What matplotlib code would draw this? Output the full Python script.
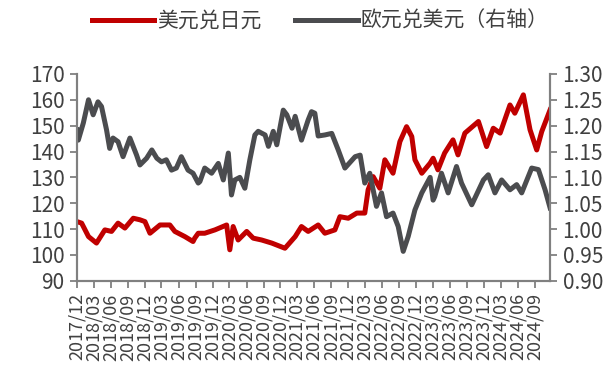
import numpy as np
import pandas as pd
import matplotlib
matplotlib.use("Agg")
import matplotlib.pyplot as plt
import matplotlib.dates as mdates

plt.rcParams['font.family'] = ['Noto Sans CJK SC', 'DejaVu Sans']

# 美元兑日元 (左轴)
jpy_dates = ["2017-12-01", "2017-12-26", "2018-02-01", "2018-03-16", "2018-04-30",
             "2018-06-05", "2018-07-10", "2018-08-16", "2018-09-30", "2018-11-05",
             "2018-12-02", "2018-12-29", "2019-02-21", "2019-04-15", "2019-05-12",
             "2019-07-05", "2019-08-18", "2019-08-27", "2019-09-15", "2019-10-20",
             "2019-12-14", "2020-02-15", "2020-03-03", "2020-03-21", "2020-04-17",
             "2020-06-02", "2020-07-07", "2020-08-21", "2020-10-15", "2020-12-25",
             "2021-02-18", "2021-03-24", "2021-04-29", "2021-06-22", "2021-07-28",
             "2021-09-20", "2021-10-17", "2021-12-01", "2022-01-16", "2022-02-28",
             "2022-03-18", "2022-04-14", "2022-05-20", "2022-06-16", "2022-07-30",
             "2022-09-05", "2022-10-11", "2022-11-08", "2022-11-25", "2023-01-01",
             "2023-02-15", "2023-03-03", "2023-03-29", "2023-05-04", "2023-06-18",
             "2023-07-15", "2023-08-21", "2023-11-02", "2023-12-16", "2024-01-21",
             "2024-02-27", "2024-04-20", "2024-05-16", "2024-07-01", "2024-08-06",
             "2024-09-11", "2024-10-08", "2024-11-22"]
jpy = [112.9, 112.3, 107.1, 104.6, 109.7,
       109.1, 112.3, 110.4, 114.2, 113.6,
       112.9, 108.4, 111.6, 111.6, 109.1,
       107.1, 105.2, 106.5, 108.4, 108.4,
       109.7, 111.6, 102.0, 111.0, 105.8,
       109.1, 106.5, 105.8, 104.6, 102.6,
       107.1, 111.0, 109.1, 111.6, 108.4,
       109.7, 114.8, 114.2, 116.2, 116.2,
       125.2, 130.3, 125.8, 136.8, 131.6,
       143.8, 149.6, 145.8, 136.8, 131.6,
       135.5, 137.4, 132.9, 139.4, 144.5,
       138.7, 147.1, 151.6, 141.9, 149.0,
       147.1, 158.0, 154.8, 161.9, 148.4,
       140.6, 147.7, 156.1]

# 欧元兑美元 (右轴)
eur_dates = ["2017-12-01", "2017-12-08", "2018-01-04", "2018-02-01", "2018-02-26",
             "2018-03-24", "2018-04-12", "2018-05-09", "2018-05-26", "2018-06-13",
             "2018-07-10", "2018-08-06", "2018-09-12", "2018-10-18", "2018-11-05",
             "2018-12-11", "2019-01-08", "2019-02-04", "2019-03-01", "2019-03-27",
             "2019-04-24", "2019-05-20", "2019-06-16", "2019-07-22", "2019-08-18",
             "2019-09-15", "2019-09-24", "2019-10-20", "2019-11-26", "2020-01-01",
             "2020-01-28", "2020-02-24", "2020-03-12", "2020-03-30", "2020-04-26",
             "2020-05-23", "2020-06-19", "2020-07-16", "2020-08-03", "2020-09-09",
             "2020-09-27", "2020-10-23", "2020-11-11", "2020-12-16", "2021-01-04",
             "2021-02-01", "2021-02-18", "2021-03-24", "2021-04-29", "2021-05-17",
             "2021-06-04", "2021-06-22", "2021-07-28", "2021-09-03", "2021-10-08",
             "2021-11-13", "2022-01-07", "2022-02-03", "2022-02-28", "2022-03-27",
             "2022-05-02", "2022-05-29", "2022-06-25", "2022-07-30", "2022-08-27",
             "2022-09-23", "2022-10-20", "2022-11-25", "2023-01-01", "2023-02-15",
             "2023-03-03", "2023-03-12", "2023-04-17", "2023-05-23", "2023-07-07",
             "2023-08-03", "2023-09-27", "2023-11-29", "2023-12-25", "2024-01-30",
             "2024-03-06", "2024-04-20", "2024-05-26", "2024-06-22", "2024-08-15",
             "2024-09-20", "2024-10-26", "2024-11-22"]
eur = [1.192, 1.172, 1.205, 1.250, 1.221,
       1.246, 1.237, 1.192, 1.156, 1.176,
       1.169, 1.140, 1.176, 1.143, 1.124,
       1.137, 1.153, 1.137, 1.130, 1.134,
       1.114, 1.118, 1.140, 1.114, 1.108,
       1.089, 1.092, 1.118, 1.108, 1.127,
       1.095, 1.147, 1.066, 1.095, 1.100,
       1.079, 1.134, 1.182, 1.189, 1.182,
       1.160, 1.189, 1.163, 1.230, 1.221,
       1.195, 1.218, 1.172, 1.211, 1.227,
       1.224, 1.180, 1.182, 1.185, 1.153,
       1.118, 1.140, 1.143, 1.089, 1.108,
       1.044, 1.070, 1.024, 1.031, 1.005,
       0.957, 0.986, 1.037, 1.070, 1.100,
       1.056, 1.063, 1.108, 1.070, 1.121,
       1.089, 1.047, 1.095, 1.105, 1.070,
       1.095, 1.076, 1.086, 1.070, 1.118,
       1.115, 1.076, 1.041]

red = '#c00000'
grey = '#4b4c4f'
axis_c = '#808080'
text_c = '#404040'

fig = plt.figure(figsize=(6.16, 3.79), dpi=100)
ax = fig.add_axes([0.125, 0.259, 0.768, 0.546])
ax2 = ax.twinx()

l1, = ax.plot(pd.to_datetime(jpy_dates), jpy, color=red, lw=3.6,
              solid_joinstyle='round', label='美元兑日元')
l2, = ax2.plot(pd.to_datetime(eur_dates), eur, color=grey, lw=3.6,
               solid_joinstyle='round', label='欧元兑美元（右轴）')

ax.set_ylim(90, 170)
ax.set_yticks(np.arange(90, 171, 10))
ax2.set_ylim(0.90, 1.30)
ax2.set_yticks(np.arange(0.90, 1.301, 0.05))
ax2.yaxis.set_major_formatter(matplotlib.ticker.FormatStrFormatter('%.2f'))

ax.set_xlim(pd.Timestamp("2017-12-01"), pd.Timestamp("2024-11-22"))
ax.xaxis.set_major_locator(mdates.MonthLocator(bymonth=[3, 6, 9, 12]))
ax.xaxis.set_major_formatter(mdates.DateFormatter('%Y/%m'))

for a in (ax, ax2):
    a.spines['top'].set_visible(False)
    for s in ('left', 'right', 'bottom'):
        a.spines[s].set_color(axis_c)
        a.spines[s].set_linewidth(1.5)
    a.tick_params(colors=axis_c, labelcolor=text_c, labelsize=15, length=5, width=1.3)

ax.tick_params(axis='x', rotation=90, pad=4)
ax.tick_params(axis='y', pad=4)
ax2.tick_params(axis='y', pad=4)
for lab in ax.get_xticklabels():
    lab.set_fontsize(13)

fig.legend(handles=[l1, l2], loc='center', bbox_to_anchor=(0.52, 0.945),
           ncol=2, frameon=False, fontsize=15, handlelength=3.0, handletextpad=0.15,
           columnspacing=1.6, labelcolor=text_c)

plt.savefig('out.png', dpi=100)
